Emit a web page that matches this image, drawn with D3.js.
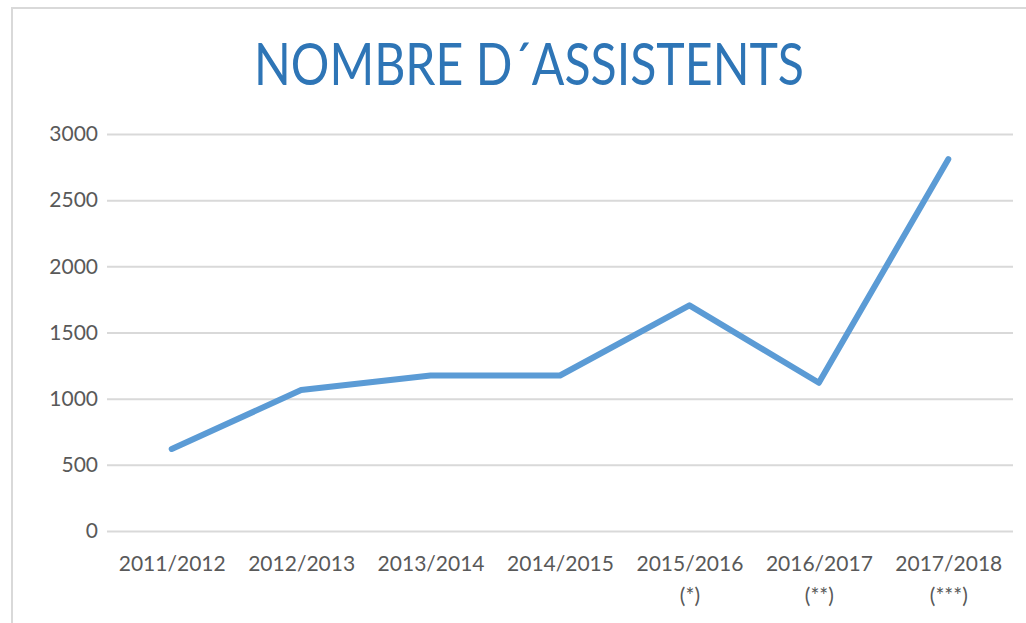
<!DOCTYPE html>
<html>
<head>
<meta charset="utf-8">
<script src="https://cdn.jsdelivr.net/npm/d3@7"></script>
<style>
  html, body { margin: 0; padding: 0; background: #fff; }
  svg { display: block; }
</style>
</head>
<body>
<div id="chart"></div>
<script>
// Data
const categories = ["2011/2012", "2012/2013", "2013/2014", "2014/2015", "2015/2016", "2016/2017", "2017/2018"];
const notes = ["", "", "", "", "(*)", "(**)", "(***)"];
const attendees = [620, 1065, 1175, 1175, 1705, 1120, 2810];
const yTicks = [0, 500, 1000, 1500, 2000, 2500, 3000];
const titleText = "NOMBRE D\u00B4ASSISTENTS";

const W = 1026, H = 623;
const margin = { top: 134, right: 13, bottom: 92, left: 107 };
const width = W - margin.left - margin.right;
const height = H - margin.top - margin.bottom;
const font = "Lato, 'Open Sans', sans-serif";

const svg = d3.select("#chart").append("svg")
  .attr("width", W)
  .attr("height", H);

// Chart frame (only top and left edges show in the picture)
svg.append("rect")
  .attr("x", 12)
  .attr("y", 8)
  .attr("width", W + 20)
  .attr("height", H + 20)
  .attr("fill", "#fff")
  .attr("stroke", "#d9d9d9")
  .attr("stroke-width", 2);

// Title
svg.append("text")
  .attr("x", 529)
  .attr("y", 85)
  .attr("text-anchor", "middle")
  .attr("textLength", 550)
  .attr("lengthAdjust", "spacingAndGlyphs")
  .style("font-family", font)
  .style("font-size", "58px")
  .style("fill", "#2e75b6")
  .text(titleText);

const g = svg.append("g")
  .attr("transform", `translate(${margin.left},${margin.top})`);

// Scales
const x = d3.scalePoint()
  .domain(categories)
  .range([0, width])
  .padding(0.5);

const y = d3.scaleLinear()
  .domain([0, 3000])
  .range([height, 0]);

// Y axis with gridlines
const yAxis = g.append("g")
  .attr("class", "y-axis")
  .call(d3.axisLeft(y)
    .tickValues(yTicks)
    .tickSize(-width)
    .tickPadding(9)
    .tickFormat(d3.format("d")));

yAxis.select(".domain").remove();
yAxis.selectAll(".tick line")
  .attr("stroke", "#d9d9d9")
  .attr("stroke-width", 2);
yAxis.selectAll("text")
  .style("font-family", font)
  .style("font-size", "21px")
  .style("fill", "#595959");

// X axis labels (two lines for footnote marks)
const xAxis = g.append("g")
  .attr("class", "x-axis")
  .attr("transform", `translate(0,${height})`)
  .call(d3.axisBottom(x).tickSize(0).tickFormat(""));

xAxis.select(".domain").remove();

xAxis.selectAll(".tick").each(function(d, i) {
  const t = d3.select(this).append("text")
    .attr("fill", "#595959")
    .attr("text-anchor", "middle")
    .style("font-family", font)
    .style("font-size", "21px");
  t.append("tspan")
    .attr("x", 0)
    .attr("y", 40)
    .text(d);
  if (notes[i]) {
    t.append("tspan")
      .attr("x", 0)
      .attr("y", 72)
      .text(notes[i]);
  }
});

// Line
const line = d3.line()
  .x((d, i) => x(categories[i]))
  .y(d => y(d));

g.append("path")
  .datum(attendees)
  .attr("fill", "none")
  .attr("stroke", "#5b9bd5")
  .attr("stroke-width", 6)
  .attr("stroke-linejoin", "round")
  .attr("stroke-linecap", "round")
  .attr("d", line);
</script>
</body>
</html>
